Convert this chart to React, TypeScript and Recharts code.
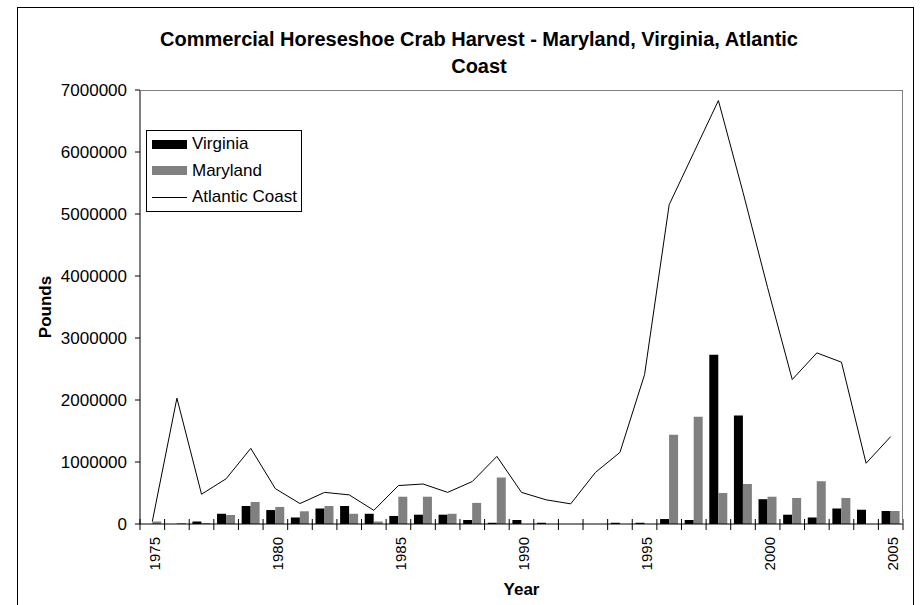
import { ComposedChart, Bar, Line, XAxis, YAxis, Legend } from 'recharts';

const YEARS = [
  1975, 1976, 1977, 1978, 1979, 1980, 1981, 1982, 1983, 1984, 1985,
  1986, 1987, 1988, 1989, 1990, 1991, 1992, 1993, 1994, 1995, 1996,
  1997, 1998, 1999, 2000, 2001, 2002, 2003, 2004, 2005,
];
const VIRGINIA = [
  0, 0, 40000, 165000, 290000, 225000, 105000, 250000, 290000, 165000, 130000,
  150000, 150000, 65000, 20000, 65000, 20000, 0, 0, 20000, 20000, 80000,
  65000, 2730000, 1750000, 400000, 150000, 105000, 250000, 230000, 210000,
];
const MARYLAND = [
  40000, 15000, 15000, 145000, 355000, 275000, 205000, 290000, 165000, 40000, 440000,
  440000, 165000, 340000, 750000, 0, 0, 0, 0, 0, 0, 1440000,
  1730000, 500000, 645000, 440000, 420000, 690000, 420000, 0, 210000,
];
const ATLANTIC = [
  40000, 2030000, 480000, 730000, 1220000, 570000, 330000, 510000, 470000, 220000, 620000,
  645000, 510000, 685000, 1090000, 510000, 390000, 325000, 830000, 1155000, 2410000, 5150000,
  5990000, 6830000, 5350000, 3810000, 2330000, 2760000, 2610000, 980000, 1410000,
];
const Y_TICKS = [0, 1000000, 2000000, 3000000, 4000000, 5000000, 6000000, 7000000];
const SERIES = ['Virginia', 'Maryland', 'Atlantic Coast'];

const data = YEARS.map((year, i) => ({
  year,
  Virginia: VIRGINIA[i],
  Maryland: MARYLAND[i],
  'Atlantic Coast': ATLANTIC[i],
}));

const FONT = 'Arial, "Liberation Sans", sans-serif';
const W = 922;
const H = 605;
const M = { top: 90, right: 19, left: 10, bottom: 21 };
const Y_AXIS_W = 130;
const PLOT_LEFT = M.left + Y_AXIS_W;
const PLOT_W = W - PLOT_LEFT - M.right;
const PLOT_H = H - M.top - M.bottom - 60;

function XTick(props: any) {
  const { x, y, payload, index } = props;
  const band = PLOT_W / YEARS.length;
  const showLabel = payload.value % 5 === 0;
  return (
    <g>
      <line x1={x - band / 2} x2={x - band / 2} y1={y - 5} y2={y + 6} stroke="#000" />
      {index === YEARS.length - 1 && (
        <line x1={x + band / 2} x2={x + band / 2} y1={y - 5} y2={y + 6} stroke="#000" />
      )}
      {showLabel && (
        <text
          transform={`translate(${x + 2},${y + 13}) rotate(-90)`}
          textAnchor="end"
          dominantBaseline="central"
          fontSize={15}
          fontFamily={FONT}
          fill="#000"
        >
          {payload.value}
        </text>
      )}
    </g>
  );
}

function LegendBox({ payload }: any) {
  const items = [...(payload || [])].sort(
    (a: any, b: any) => SERIES.indexOf(a.value) - SERIES.indexOf(b.value),
  );
  return (
    <div
      style={{
        border: '1px solid #000',
        background: '#fff',
        padding: '0 0 0 5px',
        fontFamily: FONT,
        fontSize: 17,
        color: '#000',
      }}
    >
      {items.map((e: any) => (
        <div key={e.value} style={{ display: 'flex', alignItems: 'center', height: 26.5 }}>
          {e.type === 'line' ? (
            <span style={{ display: 'inline-block', width: 35, height: 1, background: '#000', marginRight: 5 }} />
          ) : (
            <span style={{ display: 'inline-block', width: 35, height: 9, background: e.color, marginRight: 5 }} />
          )}
          {e.value}
        </div>
      ))}
    </div>
  );
}

export default function App() {
  return (
    <div style={{ position: 'absolute', left: 0, top: 0, width: W, height: H, overflow: 'hidden', background: '#fff' }}>
      {/* outer chart frame */}
      <div style={{ position: 'absolute', left: 17, top: 7, width: 895, height: 620, border: '1px solid #000' }} />

      {/* title */}
      <div
        style={{
          position: 'absolute',
          left: 0,
          width: 958,
          top: 26,
          textAlign: 'center',
          fontFamily: FONT,
          fontWeight: 'bold',
          fontSize: 20,
          lineHeight: '27px',
          color: '#000',
        }}
      >
        Commercial Horeseshoe Crab Harvest - Maryland, Virginia, Atlantic
        <br />
        Coast
      </div>

      <div style={{ position: 'absolute', left: 0, top: 0 }}>
        <ComposedChart width={W} height={H} data={data} margin={M} barCategoryGap="13%" barGap={0}>
          <XAxis
            dataKey="year"
            height={60}
            interval={0}
            tickSize={0}
            tickMargin={0}
            tickLine={false}
            axisLine={{ stroke: '#000' }}
            tick={<XTick />}
            label={(p: any) => {
              const vb = p.viewBox;
              return (
                <text x={vb.x + vb.width / 2} y={vb.y + 71} textAnchor="middle" fontSize={17} fontWeight="bold" fontFamily={FONT} fill="#000">
                  Year
                </text>
              );
            }}
          />
          <YAxis
            width={Y_AXIS_W}
            domain={[0, 7000000]}
            ticks={Y_TICKS}
            interval={0}
            tickSize={5}
            tickMargin={8}
            axisLine={{ stroke: '#000' }}
            tickLine={{ stroke: '#000' }}
            tick={{ fill: '#000', fontSize: 17, fontFamily: FONT }}
            label={(p: any) => {
              const vb = p.viewBox;
              const cx = vb.x + 35;
              const cy = vb.y + vb.height / 2;
              return (
                <text
                  transform={`translate(${cx},${cy}) rotate(-90)`}
                  textAnchor="middle"
                  dominantBaseline="central"
                  fontSize={17}
                  fontWeight="bold"
                  fontFamily={FONT}
                  fill="#000"
                >
                  Pounds
                </text>
              );
            }}
          />
          <Legend
            layout="horizontal"
            verticalAlign="middle"
            align="center"
            content={<LegendBox />}
            wrapperStyle={{ left: 146, top: 130, width: 156 }}
          />
          <Bar dataKey="Virginia" fill="#000" isAnimationActive={false} />
          <Bar dataKey="Maryland" fill="#808080" isAnimationActive={false} />
          <Line
            type="linear"
            dataKey="Atlantic Coast"
            stroke="#000"
            strokeWidth={1}
            dot={false}
            activeDot={false}
            legendType="line"
            isAnimationActive={false}
          />
        </ComposedChart>
      </div>

      {/* plot area border (top and right) */}
      <div
        style={{
          position: 'absolute',
          left: PLOT_LEFT,
          top: M.top,
          width: PLOT_W,
          height: PLOT_H,
          borderTop: '1px solid #808080',
          borderRight: '1px solid #808080',
          boxSizing: 'border-box',
          pointerEvents: 'none',
        }}
      />
    </div>
  );
}
